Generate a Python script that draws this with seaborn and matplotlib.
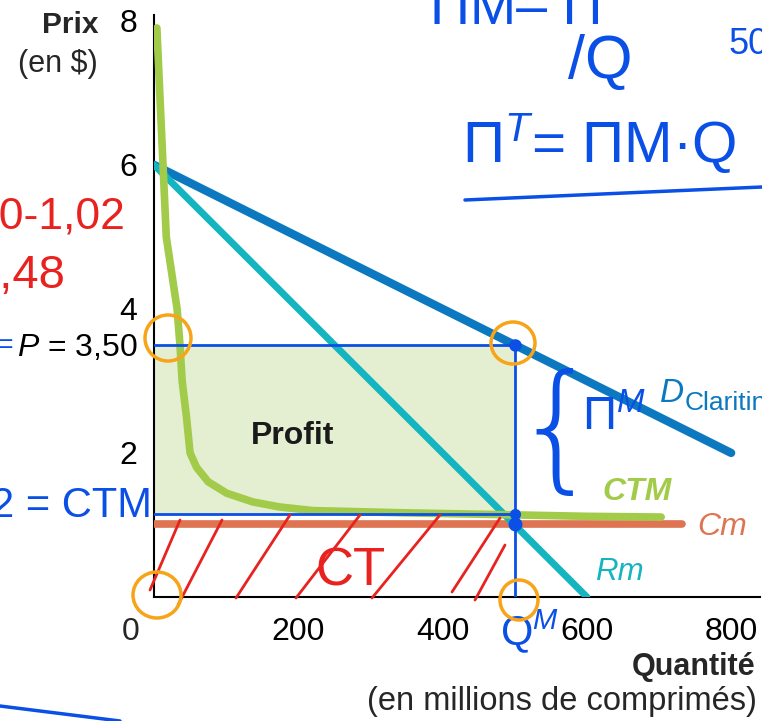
import numpy as np
import pandas as pd
import seaborn as sns
import matplotlib
matplotlib.use("Agg")
import matplotlib.pyplot as plt
from matplotlib.patches import Ellipse, Rectangle

# ---------------- data ----------------
demand_q = [0, 800]
demand_p = [6.0, 2.0]
rm_q = [0, 600]
rm_p = [6.0, 0.0]
cm_q = [0, 732]
cm_p = [1.02, 1.02]
ctm_q = [4, 8, 17, 32, 36, 39, 45, 50, 59, 75, 101, 137, 174, 220, 340, 500, 600, 703]
ctm_p = [7.9, 7.0, 5.0, 4.0, 3.5, 3.0, 2.5, 2.0, 1.8, 1.6, 1.44, 1.32, 1.25, 1.2, 1.17, 1.14, 1.12, 1.11]
q_monopole = 500
p_monopole = 3.5
ctm_at_qm = 1.15
x_ticks = [0, 100, 200, 300, 400, 500, 600, 700, 800]
x_tick_labels = ["", "", "200", "", "400", "", "600", "", "800"]
y_ticks = [1, 2, 3, 3.5, 4, 5, 6, 7, 8]
y_tick_labels = ["", "2", "", "$P$ = 3,50", "4", "", "6", "", "8"]

# ---------------- style ----------------
sns.set_theme(style="white")
plt.rcParams["font.family"] = ["Liberation Sans", "DejaVu Sans"]
plt.rcParams["mathtext.fontset"] = "custom"
plt.rcParams["mathtext.it"] = "Liberation Sans:italic"
plt.rcParams["mathtext.rm"] = "Liberation Sans"

C_D = "#0b78bf"
C_RM = "#14b4c0"
C_CTM = "#a2cb4a"
C_CM = "#de7452"
C_FILL = "#e4efd1"
C_HB = "#0a4fe6"
C_HR = "#e8231f"
C_HO = "#f7a418"

fig = plt.figure(figsize=(7.62, 7.21), dpi=100)
ax = fig.add_axes([154 / 762, 1 - 597 / 721, 606 / 762, 582 / 721])
ax.set_xlim(0, 840)
ax.set_ylim(0, 8.08)

# profit rectangle
ax.add_patch(Rectangle((0, ctm_at_qm), q_monopole, p_monopole - ctm_at_qm,
                       facecolor=C_FILL, edgecolor="none", zorder=1))

df_d = pd.DataFrame({"q": demand_q, "p": demand_p})
df_rm = pd.DataFrame({"q": rm_q, "p": rm_p})
df_cm = pd.DataFrame({"q": cm_q, "p": cm_p})
df_ctm = pd.DataFrame({"q": ctm_q, "p": ctm_p})

kw = dict(sort=False, legend=False, ax=ax, solid_capstyle="round", solid_joinstyle="round")
sns.lineplot(data=df_cm, x="q", y="p", color=C_CM, lw=5.5, zorder=3, **kw)
sns.lineplot(data=df_ctm, x="q", y="p", color=C_CTM, lw=5.5, zorder=4, **kw)
sns.lineplot(data=df_d, x="q", y="p", color=C_D, lw=6, zorder=3, **kw)
sns.lineplot(data=df_rm, x="q", y="p", color=C_RM, lw=5, zorder=3, **kw)

# axes styling
for s in ["top", "right"]:
    ax.spines[s].set_visible(False)
for s in ["left", "bottom"]:
    ax.spines[s].set_color("black")
    ax.spines[s].set_linewidth(1.5)
ax.set_xticks(x_ticks)
ax.set_xticklabels(x_tick_labels)
ax.set_yticks(y_ticks)
ax.set_yticklabels(y_tick_labels)
ax.tick_params(axis="x", direction="in", length=8, width=1.5, pad=14.5, labelsize=23, colors="black")
ax.tick_params(axis="y", direction="in", length=8, width=1.5, pad=12, labelsize=23, colors="black")
ax.set_xlabel("")
ax.set_ylabel("")
ax.grid(False)

ax.text(-33, -0.28, "0", ha="center", va="top", fontsize=23, clip_on=False)

# axis titles
fig.text(98 / 762, 1 - 33 / 721, "Prix", ha="right", va="baseline", fontsize=21.5, fontweight="bold")
fig.text(98 / 762, 1 - 72 / 721, "(en $)", ha="right", va="baseline", fontsize=22)
fig.text(755 / 762, 1 - 675 / 721, "Quantité", ha="right", va="baseline", fontsize=22, fontweight="bold")
fig.text(757 / 762, 1 - 710 / 721, "(en millions de comprimés)", ha="right", va="baseline", fontsize=23.5)

# curve labels
ax.text(192, 2.12, "Profit", ha="center", va="baseline", fontsize=23, fontweight="bold",
        color="#1a1a1a", zorder=6)
ax.text(701, 2.71, "D", ha="left", va="baseline", fontsize=24, style="italic", color=C_D, clip_on=False)
ax.text(736, 2.60, "Claritin", ha="left", va="baseline", fontsize=19, color=C_D, clip_on=False)
ax.text(622, 1.35, "CTM", ha="left", va="baseline", fontsize=23, style="italic", fontweight="bold", color=C_CTM)
ax.text(753, 0.86, "Cm", ha="left", va="baseline", fontsize=23, style="italic", color=C_CM, clip_on=False)
ax.text(611, 0.24, "Rm", ha="left", va="baseline", fontsize=22.5, style="italic", color=C_RM)

# ---------------- handwritten annotations (approximate) ----------------
def F(xp, yp):
    return (xp / 762, 1 - yp / 721)

# blue outline of the profit area and Q^M line
ax.plot([0, q_monopole], [p_monopole, p_monopole], color=C_HB, lw=2, zorder=7)
ax.plot([0, q_monopole], [ctm_at_qm, ctm_at_qm], color=C_HB, lw=2, zorder=7)
ax.plot([q_monopole, q_monopole], [p_monopole, 0], color=C_HB, lw=2, zorder=7)
ax.plot([q_monopole], [p_monopole], "o", color=C_HB, ms=8, zorder=7)
ax.plot([q_monopole], [ctm_at_qm], "o", color=C_HB, ms=7, zorder=7)
ax.plot([q_monopole], [1.02], "o", color=C_HB, ms=9, zorder=7)

fig.text(*F(430, 24), "ΠM– Π", fontsize=40, color=C_HB, ha="left", va="baseline")
fig.text(*F(568, 78), "/Q", fontsize=44, color=C_HB, ha="left", va="baseline")
fig.text(*F(728, 54), "50", fontsize=26, color=C_HB, ha="left", va="baseline")
fig.text(*F(462, 162), "Π$^{T}$= ΠM·Q", fontsize=42, color=C_HB, ha="left", va="baseline")
fig.lines.append(plt.Line2D([465 / 762, 762 / 762], [1 - 200 / 721, 1 - 187 / 721], color=C_HB, lw=2.5,
                            transform=fig.transFigure))
fig.text(*F(152, 517), "2 = CTM", fontsize=30, color=C_HB, ha="right", va="baseline")
fig.text(*F(14, 353), "(=", fontsize=20, color=C_HB, ha="right", va="baseline")
fig.text(*F(582, 430), "Π$^{M}$", fontsize=34, color=C_HB, ha="left", va="baseline")
fig.text(*F(500, 645), "Q$^{M}$", fontsize=30, color=C_HB, ha="left", va="baseline")
fig.text(*F(512, 474), "{", fontsize=100, color=C_HB, ha="left", va="baseline", family="DejaVu Sans",
         fontweight="ultralight")
fig.text(*F(125, 228), "50-1,02", fontsize=32, color=C_HR, ha="right", va="baseline")
fig.text(*F(65, 288), "2,48", fontsize=34, color=C_HR, ha="right", va="baseline")
fig.text(*F(315, 585), "CT", fontsize=38, color=C_HR, ha="left", va="baseline")
for x0, y0, x1, y1 in [(180, 520, 150, 590), (222, 520, 178, 605), (290, 515, 236, 598),
                       (360, 515, 296, 598), (440, 515, 372, 598), (500, 518, 452, 592),
                       (505, 545, 475, 600)]:
    fig.lines.append(plt.Line2D([x0 / 762, x1 / 762], [1 - y0 / 721, 1 - y1 / 721],
                                color=C_HR, lw=2, transform=fig.transFigure, zorder=9))
for cx, cy, w, h in [(168, 338, 46, 46), (513, 343, 44, 42), (157, 595, 48, 46), (519, 600, 38, 40)]:
    fig.patches.append(Ellipse(F(cx, cy), w / 762, h / 721, fill=False, edgecolor=C_HO, lw=2.5,
                               transform=fig.transFigure, zorder=11))
fig.lines.append(plt.Line2D([0, 120 / 762], [1 - 706 / 721, 1 - 721 / 721], color=C_HB, lw=2.5,
                            transform=fig.transFigure))

fig.savefig("out.png", dpi=100)
